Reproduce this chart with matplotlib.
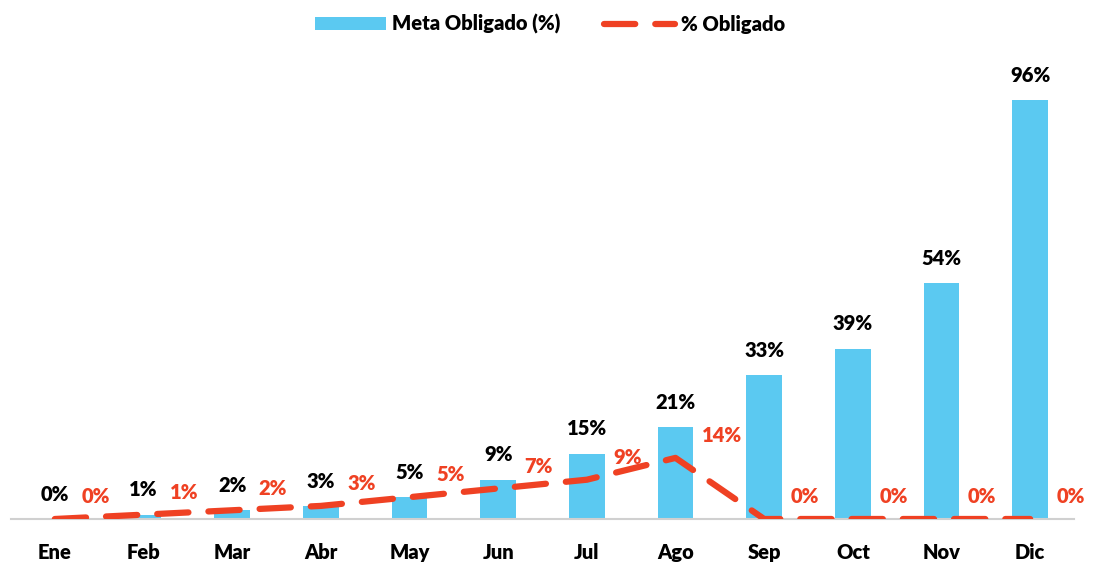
import matplotlib
matplotlib.use("Agg")
import matplotlib.pyplot as plt
import numpy as np

months = ["Ene", "Feb", "Mar", "Abr", "May", "Jun", "Jul", "Ago", "Sep", "Oct", "Nov", "Dic"]
meta = [0, 1, 2, 3, 5, 9, 15, 21, 33, 39, 54, 96]
obligado = [0, 1, 2, 3, 5, 7, 9, 14, 0, 0, 0, 0]
meta_labels = ["0%", "1%", "2%", "3%", "5%", "9%", "15%", "21%", "33%", "39%", "54%", "96%"]
obl_labels = ["0%", "1%", "2%", "3%", "5%", "7%", "9%", "14%", "0%", "0%", "0%", "0%"]

plt.rcParams['font.family'] = ['Lato', 'DejaVu Sans']
W = 'heavy'
plt.rcParams['font.weight'] = W

bar_color = "#5BC9F1"
line_color = "#EF4123"
FS = 14.5

fig = plt.figure(figsize=(11, 5.63), dpi=100)
ax = fig.add_axes([10.5/1100, 44/563, 1064/1100, 459/563])
x = np.arange(len(months))
bars = ax.bar(x, meta, width=0.4, color=bar_color, label="Meta Obligado (%)", zorder=2)
line, = ax.plot(x, obligado, color=line_color, linewidth=4.5, dashes=(5, 3.2),
                dash_capstyle='round', label="% Obligado", zorder=3)

for xi, v, t in zip(x, meta, meta_labels):
    ax.annotate(t, (xi, v), xytext=(0, 11), textcoords='offset points',
                ha='center', va='bottom', fontsize=FS, fontweight=W, color='black')
for xi, v, t in zip(x, obligado, obl_labels):
    ax.annotate(t, (xi, v), xytext=(19, 16), textcoords='offset points',
                ha='left', va='center', fontsize=FS, fontweight=W, color=line_color)

ax.set_xlim(-0.5, len(months) - 0.5)
ax.set_ylim(0, 459/4.365)
ax.set_xticks(x)
ax.set_xticklabels(months, fontsize=FS, fontweight=W)
ax.tick_params(axis='x', length=0, pad=17)
ax.set_yticks([])
for s in ['top', 'right', 'left']:
    ax.spines[s].set_visible(False)
ax.spines['bottom'].set_color('#D0D0D0')
ax.spines['bottom'].set_linewidth(1.5)

leg = fig.legend([bars, line], ["Meta Obligado (%)", "% Obligado"],
                 loc='center', bbox_to_anchor=(0.5, 1 - 24/563), ncol=2, frameon=False,
                 fontsize=FS, handlelength=3.5, handleheight=0.6, columnspacing=2.2,
                 handletextpad=0.3)
for t in leg.get_texts():
    t.set_fontweight(W)

fig.savefig("out.png", dpi=100)
